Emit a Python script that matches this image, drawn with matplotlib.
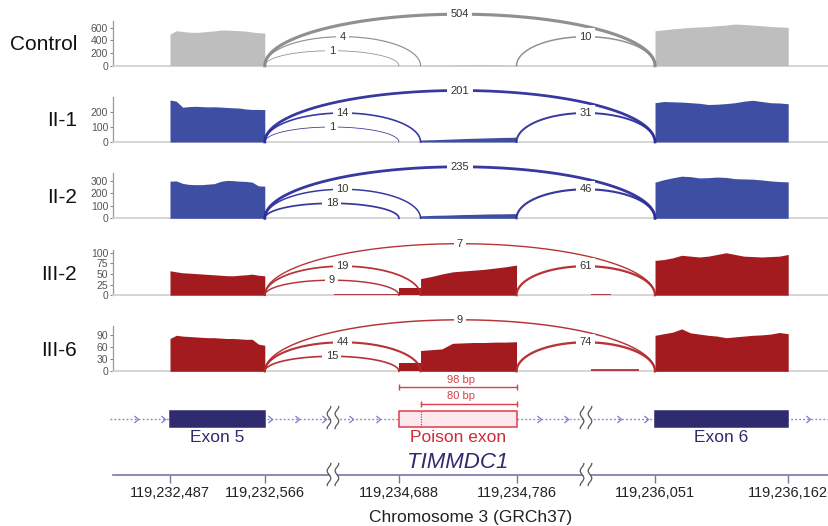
import numpy as np
import matplotlib
matplotlib.use("Agg")
import matplotlib.pyplot as plt
from matplotlib.path import Path
from matplotlib.patches import Rectangle
import matplotlib.transforms as mtransforms

plt.rcParams['font.family'] = ['Liberation Sans', 'DejaVu Sans']

# ---------------- data ----------------
SAMPLES = ["Control", "II-1", "II-2", "III-2", "III-6"]

EXON5 = (119232487, 119232566)
POISON = (119234688, 119234786)
POISON_ALT_START = 119234706
EXON6 = (119236051, 119236162)
TICK_POSITIONS = [119232487, 119232566, 119234688, 119234786, 119236051, 119236162]

# junctions: skipping, exon5->poison(80bp), exon5->poison(98bp), poison->exon6
JUNCTIONS = [(119232566, 119236051), (119232566, 119234706),
             (119232566, 119234688), (119234786, 119236051)]
JUNC_CONTROL = [504, 4, 1, 10]
JUNC_II1 = [201, 14, 1, 31]
JUNC_II2 = [235, 10, 18, 46]
JUNC_III2 = [7, 19, 9, 61]
JUNC_III6 = [9, 44, 15, 74]

Y_TICKS = [[0, 200, 400, 600], [0, 100, 200], [0, 100, 200, 300],
           [0, 25, 50, 75, 100], [0, 30, 60, 90]]
Y_MAX = [709, 300, 361, 106, 112.5]

# coverage (reads) sampled evenly across each region
COV_CONTROL_E5 = [499, 551, 540, 528, 525, 530, 541, 548, 562, 560, 556, 551, 545, 530, 520, 514]
COV_CONTROL_E6 = [551, 566, 580, 592, 604, 610, 618, 630, 640, 656, 650, 640, 630, 618, 610, 604]
COV_CONTROL_PA = [3, 3]
COV_CONTROL_PB = [3, 4, 12, 14, 12, 4]

COV_II1_E5 = [280, 272, 232, 236, 238, 236, 234, 235, 233, 230, 228, 226, 220, 217, 217, 216]
COV_II1_E6 = [262, 270, 268, 266, 262, 258, 250, 252, 256, 262, 272, 278, 270, 262, 260, 255]
COV_II1_PA = [2, 2]
COV_II1_PB = [13, 16, 20, 24, 27, 30, 32]

COV_II2_E5 = [298, 300, 280, 272, 270, 270, 274, 278, 296, 304, 302, 298, 296, 290, 260, 258]
COV_II2_E6 = [290, 310, 325, 338, 334, 324, 326, 331, 328, 318, 316, 314, 308, 300, 295, 292]
COV_II2_PA = [3, 3]
COV_II2_PB = [20, 24, 26, 30, 32, 35, 36, 38]

COV_III2_E5 = [57.5, 55, 52.8, 52, 51, 50, 49, 48, 47, 46, 45.7, 47, 48, 49.6, 47, 45.7]
COV_III2_E6 = [82, 84, 88, 94, 92, 90, 92, 96, 100, 96, 92, 91, 90, 91, 92, 96]
COV_III2_PA = [18, 18, 18]
COV_III2_PB = [39, 44, 50, 55, 57, 59, 61, 64, 67, 71]

COV_III6_E5 = [82, 90, 88, 87, 86, 85, 84, 84, 83, 82, 82, 81, 80, 80, 68, 65]
COV_III6_E6 = [90, 94, 98, 106, 96, 93, 90, 88, 84, 86, 88, 90, 91, 93, 97, 94]
COV_III6_PA = [21, 21, 21]
COV_III6_PB = [52, 54, 56, 70, 71, 72, 72, 73, 73, 74]

# low background coverage in introns: (start, end, reads)
BG_II2 = [(119234634, 119234688, 3)]
BG_III2 = [(119234634, 119234688, 3), (119235998, 119236014, 4)]
BG_III6 = [(119234634, 119234660, 2), (119235998, 119236038, 7)]

# ---------------- layout / style ----------------
W, H = 829, 526
SEG_ANCHORS = [119232487, 119234688, 119236051]
SEG_OFFSETS = [0.0, 190.8, 404.2]
SEG_LIMITS = [119233500, 119235500]
XLIM = (-47.5, 549.2)
BREAKS = [135.8, 346.7]
BASELINES = [65.7, 142, 218.3, 295.2, 371.3]
PANEL_H = 45.0
ARC_H_PX = [51.5, 29, 15, 29]

COV_COLORS = ['#bebebe', '#3e4fa3', '#3e4fa3', '#a31a1f', '#a31a1f']
ARC_COLORS = ['#8a8a8a', '#2d2d9c', '#2d2d9c', '#b3282b', '#b3282b']
NAVY = '#302a6e'
RED = '#d8404b'


def cmap(g):
    g = np.asarray(g, dtype=float)
    seg = np.where(g < SEG_LIMITS[0], 0, np.where(g < SEG_LIMITS[1], 1, 2))
    anchors = np.array(SEG_ANCHORS)[seg]
    offs = np.array(SEG_OFFSETS)[seg]
    return offs + (g - anchors)


def fig_rect(x0, y_top, x1, y_bot):
    return [x0 / W, 1 - y_bot / H, (x1 - x0) / W, (y_bot - y_top) / H]


coverage = [
    (COV_CONTROL_E5, COV_CONTROL_E6, COV_CONTROL_PA, COV_CONTROL_PB, []),
    (COV_II1_E5, COV_II1_E6, COV_II1_PA, COV_II1_PB, []),
    (COV_II2_E5, COV_II2_E6, COV_II2_PA, COV_II2_PB, BG_II2),
    (COV_III2_E5, COV_III2_E6, COV_III2_PA, COV_III2_PB, BG_III2),
    (COV_III6_E5, COV_III6_E6, COV_III6_PA, COV_III6_PB, BG_III6),
]
junctions = [JUNC_CONTROL, JUNC_II1, JUNC_II2, JUNC_III2, JUNC_III6]

fig = plt.figure(figsize=(W / 100, H / 100), dpi=100)

for i, name in enumerate(SAMPLES):
    base = BASELINES[i]
    ax = fig.add_axes(fig_rect(113, base - PANEL_H, 829, base))
    ax.set_xlim(*XLIM)
    ax.set_ylim(0, Y_MAX[i])
    ax.patch.set_alpha(0)
    e5, e6, pa, pb, bg = coverage[i]
    regions = [(EXON5, e5), (EXON6, e6), ((POISON[0], POISON_ALT_START), pa),
               ((POISON_ALT_START, POISON[1]), pb)]
    for (g0, g1), vals in regions:
        xs = np.linspace(cmap(g0), cmap(g1), len(vals))
        ax.fill_between(xs, 0, vals, color=COV_COLORS[i], lw=0, zorder=2.6)
    for g0, g1, v in bg:
        ax.fill_between([cmap(g0), cmap(g1)], 0, [v, v], color=COV_COLORS[i],
                        lw=0, alpha=0.8, zorder=2.6)

    trans = mtransforms.blended_transform_factory(ax.transData, ax.transAxes)
    t = np.linspace(0, np.pi, 300)
    for j, (d, a) in enumerate(JUNCTIONS):
        cnt = junctions[i][j]
        x0, x1 = float(cmap(d)), float(cmap(a))
        cx, rx = (x0 + x1) / 2, (x1 - x0) / 2
        h = ARC_H_PX[j] / PANEL_H
        lw_px = 0.5 + 0.42 * np.log1p(cnt)
        ax.plot(cx + rx * np.cos(t), h * np.sin(t), transform=trans,
                color=ARC_COLORS[i], lw=lw_px * 0.72, clip_on=False, zorder=3,
                alpha=0.95)
        ax.text(cx, h, str(cnt), transform=trans, ha='center', va='center',
                fontsize=8, color='#333333', clip_on=False, zorder=6,
                bbox=dict(boxstyle='square,pad=0.3', fc='white', ec='none'))

    for s in ['top', 'right']:
        ax.spines[s].set_visible(False)
    ax.spines['left'].set_color('#999999')
    ax.spines['left'].set_linewidth(0.9)
    ax.spines['bottom'].set_color('#d2d2d2')
    ax.spines['bottom'].set_linewidth(1.3)
    ax.set_xticks([])
    ax.set_yticks(Y_TICKS[i])
    ax.tick_params(axis='y', length=2.5, width=0.8, color='#888888',
                   labelsize=7.5, labelcolor='#555555', pad=1)

    fig.text(77 / W, 1 - (base - 21) / H, name, ha='right', va='center',
             fontsize=15, color='#111111')

# ---------- chromosome axis ----------
ax_chr = fig.add_axes(fig_rect(113, 473, 829, 474.5))
ax_chr.set_xlim(*XLIM)
ax_chr.patch.set_alpha(0)
for s in ['top', 'right', 'left']:
    ax_chr.spines[s].set_visible(False)
ax_chr.spines['bottom'].set_color('#7676a8')
ax_chr.spines['bottom'].set_linewidth(1.2)
ax_chr.set_yticks([])
ax_chr.set_xticks(cmap(TICK_POSITIONS))
ax_chr.set_xticklabels([f"{g:,}" for g in TICK_POSITIONS])
ax_chr.tick_params(axis='x', length=5.8, width=1, color='#7676a8',
                   labelsize=10.5, labelcolor='#222222', pad=2.5)
ax_chr.set_xlabel("Chromosome 3 (GRCh37)", fontsize=12.5, color='#222222',
                  labelpad=7)

# ---------- gene model ----------
ax_g = fig.add_axes(fig_rect(113, 376, 829, 526))
ax_g.set_xlim(*XLIM)
ax_g.set_ylim(526, 376)
ax_g.axis('off')
ax_g.set_zorder(5)
ax_g.patch.set_alpha(0)

y_gene = 418.5
ax_g.plot([XLIM[0] - 2.5, XLIM[1]], [y_gene, y_gene], ls=(0, (1.3, 1.6)),
          color='#8585cc', lw=1.0, clip_on=False, zorder=1)

chev = Path([(-0.6, 1), (0.6, 0), (-0.6, -1)],
            [Path.MOVETO, Path.LINETO, Path.LINETO])
grid = np.arange(-28.6, XLIM[1], 22.4)
exon_spans = [cmap(EXON5), cmap(POISON), cmap(EXON6)]
keep = []
for p in grid:
    if any(s[0] - 3 <= p <= s[1] + 3 for s in exon_spans):
        continue
    if any(abs(p - b) < 7 for b in BREAKS):
        continue
    keep.append(p)
ax_g.plot(keep, [y_gene] * len(keep), ls='none', marker=chev, ms=5,
          mfc='none', mec='#7d7dc4', mew=0.9, zorder=2)

ex_top, ex_h = 410.5, 16
for span, fc, ec in [(EXON5, NAVY, NAVY), (EXON6, NAVY, NAVY),
                     (POISON, '#fde8ee', RED)]:
    x0, x1 = cmap(span)
    ax_g.add_patch(Rectangle((x0, ex_top), x1 - x0, ex_h, fc=fc, ec=ec,
                             lw=1.1, zorder=3))
xa = float(cmap(POISON_ALT_START))
ax_g.plot([xa, xa], [ex_top, ex_top + ex_h], ls=(0, (1, 1)), color=RED,
          lw=0.9, zorder=4)

# scale bars
p0, p1 = cmap(POISON)
bars = [(POISON[0], 386.7, 380), (POISON_ALT_START, 404.3, 396)]
for g0, yb, yt in bars:
    xb0 = float(cmap(g0))
    ax_g.plot([xb0, p1], [yb, yb], color=RED, lw=1.0, marker='|', ms=5,
              mew=1.0, zorder=3)
    ax_g.text((p0 + p1) / 2 + 3, yt, f"{POISON[1] - g0} bp", ha='center',
              va='center', fontsize=8, color=RED)

ax_g.text(np.mean(cmap(EXON5)), 437, "Exon 5", ha='center', va='center',
          fontsize=12.5, color=NAVY)
ax_g.text(np.mean(cmap(POISON)), 437, "Poison exon", ha='center',
          va='center', fontsize=12.5, color='#d02a36')
ax_g.text(np.mean(cmap(EXON6)), 437, "Exon 6", ha='center', va='center',
          fontsize=12.5, color=NAVY)
ax_g.text(np.mean(cmap(POISON)), 463, "TIMMDC1", ha='center', va='center',
          fontsize=16, style='italic', color=NAVY)

# break marks
yy = np.linspace(-11, 11, 80)
wave = 1.5 * np.sin(2 * np.pi * yy / 22 * 1.5)
for b in BREAKS:
    for yc in [y_gene - 1, 474.5]:
        ax_g.fill_betweenx(yc + yy, b - 3.3 + wave, b + 3.3 + wave,
                           color='white', lw=0, zorder=5)
        for off in (-3.3, 3.3):
            ax_g.plot(b + off + wave, yc + yy, color='#555555', lw=0.9,
                      zorder=6, clip_on=False)

fig.savefig("out.png", dpi=100)
